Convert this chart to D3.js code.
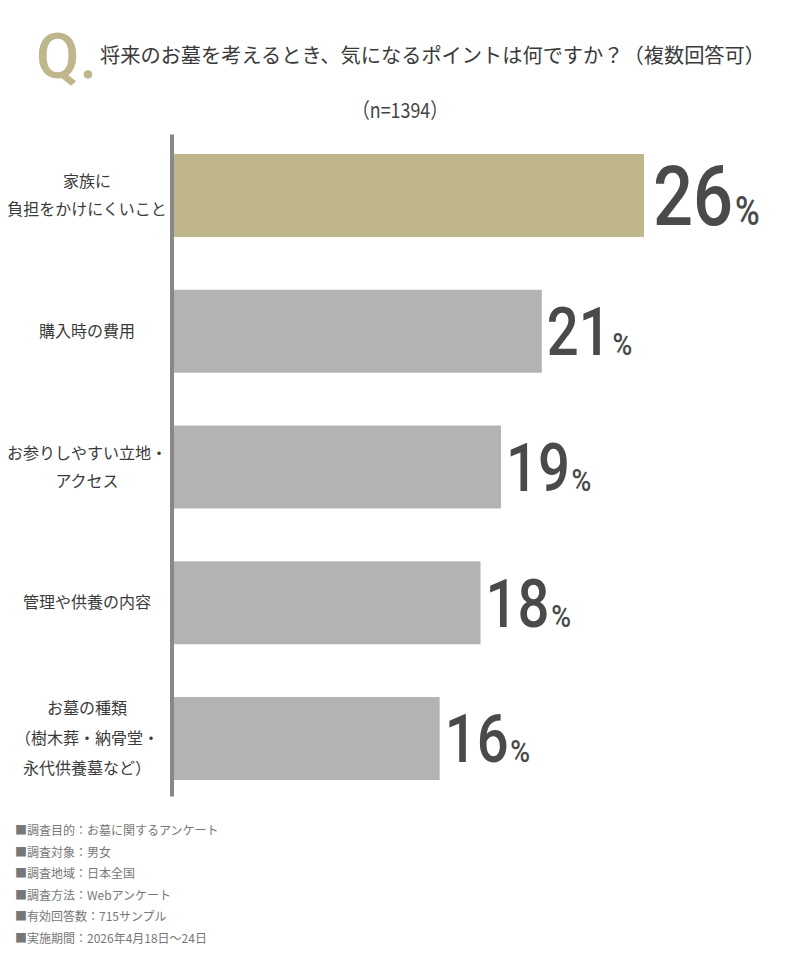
<!DOCTYPE html>
<html><head><meta charset="utf-8">
<script src="https://cdn.jsdelivr.net/npm/d3@7"></script>
<style>body{margin:0;background:#fff}svg{display:block}</style>
</head><body>
<svg id="chart" width="800" height="973"></svg>
<script>
const categories = [
  ["家族に","負担をかけにくいこと"],
  ["購入時の費用"],
  ["お参りしやすい立地・","アクセス"],
  ["管理や供養の内容"],
  ["お墓の種類","（樹木葬・納骨堂・","永代供養墓など）"]
];
const values = [26, 21, 19, 18, 16];
const titleText = "将来のお墓を考えるとき、気になるポイントは何ですか？（複数回答可）";
const sampleText = "（n=1394）";
const notes = [
  "■調査目的：お墓に関するアンケート",
  "■調査対象：男女",
  "■調査地域：日本全国",
  "■調査方法：Webアンケート",
  "■有効回答数：715サンプル",
  "■実施期間：2026年4月18日〜24日"
];

const svg = d3.select("#chart");
const jp = "'Noto Sans CJK JP', 'Noto Sans', sans-serif";
const num = "Roboto, 'DejaVu Sans', sans-serif";
const gold = "#c0b68c", gray = "#b3b3b3", ink = "#4a4a4a";

// Title
svg.append("text").attr("x", 36).attr("y", 78)
  .attr("font-family", num).attr("font-weight", 500).attr("font-size", 63)
  .attr("fill", gold).text("Q.");
svg.append("text").attr("x", 100).attr("y", 63)
  .attr("font-family", jp).attr("font-size", 20.5).attr("fill", "#3a3a3a")
  .attr("textLength", 665).attr("lengthAdjust", "spacingAndGlyphs")
  .text(titleText);
svg.append("text").attr("x", 400).attr("y", 118).attr("text-anchor", "middle")
  .attr("font-family", jp).attr("font-size", 21).attr("fill", "#444")
  .attr("textLength", 96).attr("lengthAdjust", "spacingAndGlyphs")
  .text(sampleText);

// Scales
const y = d3.scaleBand().domain(d3.range(values.length))
  .range([127.6, 806.4]).paddingInner(0.389).paddingOuter(0.1945);
const x = d3.scaleLinear().domain([3, 26]).range([174, 644]);

// Bars
svg.selectAll("rect.bar").data(values).join("rect").attr("class", "bar")
  .attr("x", x.range()[0]).attr("y", (d, i) => y(i))
  .attr("width", d => x(d) - x.range()[0]).attr("height", y.bandwidth())
  .attr("fill", (d, i) => i === 0 ? gold : gray);

// Axis line
svg.append("line")
  .attr("x1", x.range()[0] - 2).attr("x2", x.range()[0] - 2)
  .attr("y1", y.range()[0] + 7).attr("y2", y.range()[1] - 10)
  .attr("stroke", "#888").attr("stroke-width", 4);

// Category labels
categories.forEach((lines, i) => {
  const cy = y(i) + y.bandwidth() / 2;
  const lh = lines.length === 3 ? 30 : 28;
  const t = svg.append("text").attr("text-anchor", "middle")
    .attr("font-family", jp).attr("font-size", 16).attr("fill", "#3a3a3a");
  lines.forEach((ln, k) => {
    t.append("tspan").attr("x", 87)
      .attr("y", cy + (k - (lines.length - 1) / 2) * lh + 5.5)
      .text(ln);
  });
});

// Value labels
values.forEach((v, i) => {
  const big = i === 0;
  const fs = big ? 84 : 67;
  const cap = fs * 0.711;
  const cy = y(i) + y.bandwidth() / 2;
  const g = svg.append("g")
    .attr("transform", `translate(${x(v) + (big ? 9 : 5)},${cy + cap / 2}) scale(0.84,1)`);
  const t = g.append("text").attr("font-family", num).attr("font-weight", 500)
    .attr("fill", ink).attr("font-size", fs);
  t.append("tspan").text(v);
  t.append("tspan").attr("font-size", big ? 40 : 32).attr("dx", 2).text("%");
});

// Notes
svg.selectAll("text.note").data(notes).join("text").attr("class", "note")
  .attr("x", 15).attr("y", (d, i) => 835 + i * 21.6)
  .attr("font-family", jp).attr("font-size", 12).attr("fill", "#777")
  .text(d => d);
</script>
</body></html>
